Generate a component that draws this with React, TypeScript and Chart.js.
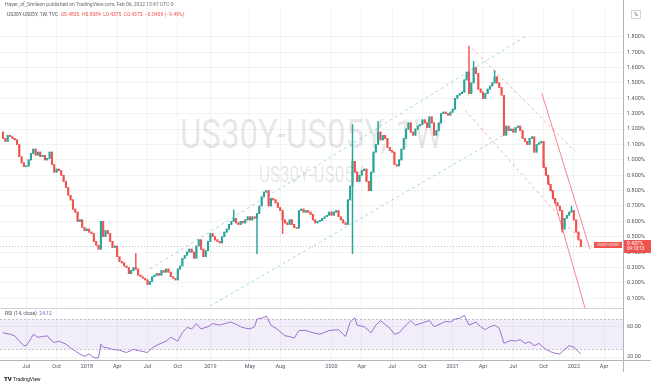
import React, { useEffect, useRef } from "react";
import { Chart, registerables } from "chart.js";

Chart.register(...registerables);

// Weekly closes of US30Y-US05Y (%), week 0 = 24 Apr 2017 ... week 248 = 31 Jan 2022
const closes: number[] = [
  1.14, 1.12, 1.16, 1.15, 1.14, 1.13, 1.10, 1.02, 0.98, 0.955,
  0.96, 1.00, 1.04, 1.07, 1.03, 1.05, 1.02, 1.03, 1.00, 1.01,
  1.05, 0.97, 0.92, 0.94, 0.93, 0.90, 0.86, 0.82, 0.77, 0.74,
  0.68, 0.66, 0.60, 0.61, 0.56, 0.54, 0.55, 0.53, 0.52, 0.47,
  0.445, 0.42, 0.60, 0.50, 0.54, 0.52, 0.47, 0.43, 0.44, 0.37,
  0.34, 0.33, 0.31, 0.30, 0.26, 0.28, 0.30, 0.29, 0.25, 0.24,
  0.23, 0.22, 0.19, 0.21, 0.24, 0.25, 0.26, 0.25, 0.28, 0.27,
  0.29, 0.27, 0.24, 0.23, 0.22, 0.29, 0.31, 0.36, 0.38, 0.40,
  0.42, 0.40, 0.36, 0.44, 0.48, 0.42, 0.37, 0.41, 0.47, 0.52,
  0.50, 0.48, 0.47, 0.46, 0.50, 0.53, 0.55, 0.58, 0.60, 0.62,
  0.59, 0.58, 0.60, 0.59, 0.61, 0.63, 0.61, 0.63, 0.62, 0.65,
  0.70, 0.76, 0.79, 0.80, 0.70, 0.75, 0.74, 0.72, 0.69, 0.67,
  0.61, 0.59, 0.58, 0.61, 0.58, 0.56, 0.555, 0.67, 0.68, 0.66,
  0.67, 0.66, 0.645, 0.61, 0.59, 0.60, 0.605, 0.62, 0.63, 0.64,
  0.66, 0.64, 0.66, 0.67, 0.63, 0.61, 0.59, 0.58, 0.74, 0.83,
  0.99, 0.92, 0.86, 0.90, 0.93, 0.94, 0.86, 0.80, 0.92, 1.05,
  1.10, 1.18, 1.13, 1.16, 1.14, 1.08, 1.06, 1.05, 0.97, 0.96,
  1.00, 1.07, 1.14, 1.20, 1.24, 1.18, 1.16, 1.20, 1.22, 1.23,
  1.26, 1.24, 1.21, 1.28, 1.24, 1.16, 1.19, 1.24, 1.30, 1.31,
  1.30, 1.29, 1.31, 1.33, 1.40, 1.42, 1.43, 1.44, 1.52, 1.57,
  1.43, 1.50, 1.60, 1.56, 1.46, 1.44, 1.40, 1.43, 1.46, 1.48,
  1.50, 1.54, 1.50, 1.47, 1.42, 1.16, 1.22, 1.19, 1.20, 1.18,
  1.21, 1.22, 1.19, 1.14, 1.12, 1.10, 1.14, 1.15, 1.05, 1.10,
  1.11, 1.12, 0.95, 0.90, 0.84, 0.80, 0.75, 0.72, 0.70, 0.67,
  0.55, 0.62, 0.64, 0.66, 0.67, 0.61, 0.53, 0.48, 0.437,
];
const firstOpen = 1.18;

// Notable wicks: [week, price]
const wickHighs: [number, number][] = [
  [57, 0.39], [99, 0.675], [150, 1.23], [161, 1.25], [200, 1.74], [202, 1.64], [211, 1.58], [244, 0.70],
];
const wickLows: [number, number][] = [
  [109, 0.39], [120, 0.52], [150, 0.39], [240, 0.53],
];

// RSI (14, close): week index / value
const rsiWeeks: number[] = [
  0, 3, 5, 7, 9, 10, 12, 13, 15, 17, 19, 20, 22, 24, 27, 29, 31, 33, 35, 37,
  39, 41, 42, 43, 45, 47, 50, 53, 56, 59, 62, 64, 67, 70, 72, 75, 77, 79, 81, 83,
  85, 88, 90, 93, 95, 98, 102, 104, 106, 108, 109, 112, 113, 115, 118, 121, 123, 125, 127, 130,
  133, 136, 140, 144, 147, 149, 151, 152, 155, 158, 160, 162, 164, 166, 168, 170, 173, 175, 177, 179,
  181, 183, 185, 188, 190, 192, 194, 196, 198, 200, 203, 205, 207, 209, 211, 213, 215, 218, 220, 222,
  224, 226, 228, 230, 233, 235, 237, 239, 241, 243, 245, 247, 248,
];
const rsiValues: number[] = [
  52, 50, 48, 41, 35, 35, 44, 50, 46, 47, 48, 44, 39, 41, 37, 32, 28, 24, 21, 24,
  19, 19, 37, 33, 32, 30, 29, 26, 30, 28, 26, 32, 37, 41, 46, 41, 52, 59, 57, 64,
  57, 60, 64, 62, 64, 66, 60, 58, 57, 60, 70, 72, 74, 62, 56, 48, 47, 45, 55, 55,
  52, 50, 55, 56, 47, 66, 72, 62, 60, 52, 62, 68, 63, 58, 50, 52, 62, 68, 62, 64,
  66, 68, 60, 64, 67, 66, 70, 71, 75, 62, 66, 60, 56, 60, 62, 58, 38, 42, 41, 43,
  38, 40, 35, 38, 30, 27, 25, 24, 30, 35, 33, 27, 24.12,
];

// Time axis
const tickWeeks: number[] = [10, 23, 36, 49, 62, 75, 89, 106, 119, 141, 154, 167, 180, 193, 206, 219, 232, 245, 258];
const tickLabels: string[] = ["Jul", "Oct", "2018", "Apr", "Jul", "Oct", "2019", "May", "Aug", "2020", "Apr", "Jul", "Oct", "2021", "Apr", "Jul", "Oct", "2022", "Apr"];
const priceTicks: number[] = [0.1, 0.2, 0.3, 0.4, 0.5, 0.6, 0.7, 0.8, 0.9, 1.0, 1.1, 1.2, 1.3, 1.4, 1.5, 1.6, 1.7, 1.8];
const rsiTicks: number[] = [20, 40, 60, 80];

// Drawings: [week1, price1, week2, price2]
const greenChannel: number[][] = [
  [63.1, 0.291, 224.0, 1.80],
  [88.8, 0.049, 216.7, 1.176],
];
const redDashed: number[][] = [
  [201.3, 1.724, 245.5, 1.055],
  [198.3, 1.323, 249.8, 0.444],
];
const redSolid: number[][] = [
  [231.3, 1.431, 251.9, 0.419],
  [231.8, 0.992, 249.8, 0.036],
];
const lastPrice = 0.437;

const UP = "#26a69a";
const DOWN = "#ef5350";

export default function App() {
  const ref = useRef<HTMLCanvasElement | null>(null);

  useEffect(() => {
    const canvas = ref.current;
    if (!canvas) return;

    const opens = closes.map((_, i) => (i === 0 ? firstOpen : closes[i - 1]));
    const highs = closes.map((c, i) => Math.max(c, opens[i]));
    const lows = closes.map((c, i) => Math.min(c, opens[i]));
    wickHighs.forEach(([i, v]) => (highs[i] = Math.max(highs[i], v)));
    wickLows.forEach(([i, v]) => (lows[i] = Math.min(lows[i], v)));
    const colors = closes.map((c, i) => (c >= opens[i] ? UP : DOWN));

    const bodies = closes.map((c, i) => ({ x: i, y: [opens[i], c] }));
    const wicks = closes.map((_, i) => ({ x: i, y: [lows[i], highs[i]] }));
    const rsi = rsiWeeks.map((w, i) => ({ x: w, y: rsiValues[i] }));

    const overlay = {
      id: "overlay",
      beforeDatasetsDraw(chart: any) {
        const { ctx, scales, chartArea } = chart;
        const yR = scales.yR;
        const y70 = yR.getPixelForValue(70);
        const y30 = yR.getPixelForValue(30);
        ctx.save();
        ctx.fillStyle = "rgba(126,87,194,0.1)";
        ctx.fillRect(chartArea.left, y70, chartArea.right - chartArea.left, y30 - y70);
        ctx.strokeStyle = "rgba(120,123,134,0.4)";
        ctx.lineWidth = 1;
        ctx.setLineDash([2, 2]);
        [70, 30].forEach((v) => {
          const y = Math.round(yR.getPixelForValue(v)) + 0.5;
          ctx.beginPath();
          ctx.moveTo(chartArea.left, y);
          ctx.lineTo(chartArea.right, y);
          ctx.stroke();
        });
        ctx.restore();
      },
      afterDatasetsDraw(chart: any) {
        const { ctx, scales, chartArea } = chart;
        const x = scales.x;
        const yP = scales.yP;
        ctx.save();
        ctx.beginPath();
        ctx.rect(chartArea.left, yP.top, chartArea.right - chartArea.left, yP.bottom - yP.top);
        ctx.clip();
        const seg = (l: number[]) => {
          ctx.beginPath();
          ctx.moveTo(x.getPixelForValue(l[0]), yP.getPixelForValue(l[1]));
          ctx.lineTo(x.getPixelForValue(l[2]), yP.getPixelForValue(l[3]));
          ctx.stroke();
        };
        ctx.lineWidth = 1;
        ctx.setLineDash([3, 3]);
        ctx.strokeStyle = "rgba(38,166,154,0.42)";
        greenChannel.forEach(seg);
        ctx.strokeStyle = "rgba(242,54,69,0.42)";
        redDashed.forEach(seg);
        ctx.setLineDash([]);
        ctx.strokeStyle = "rgba(242,54,69,0.6)";
        redSolid.forEach(seg);
        // last price line
        ctx.setLineDash([1, 2]);
        ctx.strokeStyle = "rgba(120,123,134,0.45)";
        const yl = Math.round(yP.getPixelForValue(lastPrice)) + 0.5;
        ctx.beginPath();
        ctx.moveTo(chartArea.left, yl);
        ctx.lineTo(chartArea.right, yl);
        ctx.stroke();
        ctx.restore();

        // frame lines
        ctx.save();
        ctx.strokeStyle = "#d1d4dc";
        ctx.lineWidth = 1;
        const sep = Math.round(yP.bottom) + 0.5;
        ctx.beginPath();
        ctx.moveTo(0, sep);
        ctx.lineTo(chartArea.right, sep);
        ctx.stroke();
        ctx.strokeStyle = "#b2b5be";
        const xb = Math.round(chartArea.bottom) + 0.5;
        ctx.beginPath();
        ctx.moveTo(0, xb);
        ctx.lineTo(651, xb);
        ctx.stroke();
        const xr = Math.round(chartArea.right) + 0.5;
        ctx.beginPath();
        ctx.moveTo(xr, 0);
        ctx.lineTo(xr, 372);
        ctx.stroke();
        ctx.restore();
      },
    };

    const tickFont = { family: "Roboto", size: 5.5 };
    const gridColor = "rgba(42,46,57,0.06)";

    const chart = new Chart(canvas, {
      type: "bar",
      data: {
        datasets: [
          {
            type: "bar",
            data: wicks as any,
            xAxisID: "x",
            yAxisID: "yP",
            backgroundColor: colors,
            barThickness: 0.8,
            grouped: false,
            order: 3,
          } as any,
          {
            type: "bar",
            data: bodies as any,
            xAxisID: "x",
            yAxisID: "yP",
            backgroundColor: colors,
            barThickness: 1.4,
            minBarLength: 1,
            grouped: false,
            order: 2,
          } as any,
          {
            type: "line",
            data: rsi as any,
            xAxisID: "x",
            yAxisID: "yR",
            borderColor: "#9c6fd0",
            borderWidth: 1,
            pointRadius: 0,
            tension: 0,
            order: 1,
          } as any,
        ],
      },
      options: {
        responsive: false,
        animation: false,
        devicePixelRatio: 1,
        events: [],
        layout: { padding: 0 },
        plugins: { legend: { display: false }, tooltip: { enabled: false } },
        scales: {
          x: {
            type: "linear",
            position: "bottom",
            min: -1.29,
            max: 266.1,
            offset: false,
            afterBuildTicks: (s: any) => {
              s.ticks = tickWeeks.map((v) => ({ value: v }));
            },
            afterFit: (s: any) => {
              s.height = 24;
            },
            ticks: {
              autoSkip: false,
              maxRotation: 0,
              padding: 3,
              font: tickFont,
              color: "#50535e",
              callback: (_v: any, i: number) => tickLabels[i],
            },
            grid: { color: gridColor, drawTicks: false, offset: false },
            border: { display: false },
          },
          yP: {
            type: "linear",
            position: "right",
            stack: "panes",
            stackWeight: 307,
            min: 0.0363,
            max: 1.9917,
            afterBuildTicks: (s: any) => {
              s.ticks = priceTicks.map((v) => ({ value: v }));
            },
            afterFit: (s: any) => {
              s.width = 28;
            },
            ticks: {
              padding: 4,
              font: tickFont,
              color: "#50535e",
              callback: (v: any) => Number(v).toFixed(3) + "%",
            },
            grid: { color: gridColor, drawTicks: false },
            border: { display: false },
          },
          yR: {
            type: "linear",
            position: "right",
            stack: "panes",
            stackWeight: 53,
            min: 16.1,
            max: 84.5,
            afterBuildTicks: (s: any) => {
              s.ticks = rsiTicks.map((v) => ({ value: v }));
            },
            afterFit: (s: any) => {
              s.width = 28;
            },
            ticks: {
              padding: 4,
              font: tickFont,
              color: "#50535e",
              callback: (v: any) => Number(v).toFixed(2),
            },
            grid: { color: gridColor, drawTicks: false },
            border: { display: false },
          },
        },
      } as any,
      plugins: [overlay],
    });

    return () => chart.destroy();
  }, []);

  const small: React.CSSProperties = { position: "absolute", whiteSpace: "nowrap", lineHeight: 1 };

  return (
    <div
      style={{
        position: "fixed",
        left: 0,
        top: 0,
        width: 651,
        height: 384,
        background: "#ffffff",
        overflow: "hidden",
        fontFamily: "Roboto, 'Noto Sans', sans-serif",
      }}
    >
      {/* watermark */}
      <div
        style={{
          ...small,
          left: 0,
          width: 623,
          top: 113,
          textAlign: "center",
          fontSize: 33,
          color: "rgba(0,0,0,0.11)",
          transform: "scaleY(1.25)",
          transformOrigin: "top",
        }}
      >
        US30Y-US05Y, 1W
      </div>
      <div
        style={{
          ...small,
          left: 0,
          width: 623,
          top: 164,
          textAlign: "center",
          fontSize: 17,
          color: "rgba(0,0,0,0.11)",
          transform: "scaleY(1.25)",
          transformOrigin: "top",
        }}
      >
        US30Y-US05Y
      </div>

      <canvas ref={ref} width={651} height={384} style={{ position: "absolute", left: 0, top: 0, width: 651, height: 384 }} />

      {/* header */}
      <div style={{ ...small, left: 5, top: 2, fontSize: 5, color: "#6a6d78" }}>
        Hayer_of_Smileon published on TradingView.com, Feb 06, 2022 13:47 UTC-5
      </div>
      <div style={{ ...small, left: 7, top: 12, fontSize: 5, color: "#50535e" }}>
        US30Y-US05Y, 1W, TVC&nbsp;&nbsp;
        <span style={{ color: DOWN }}>
          O0.4835&nbsp;&nbsp;H0.5084&nbsp;&nbsp;L0.4375&nbsp;&nbsp;C0.4375&nbsp;&nbsp;−0.0459 (−9.49%)
        </span>
      </div>

      {/* percent box */}
      <div
        style={{
          ...small,
          left: 631,
          top: 10,
          fontSize: 5,
          color: "#50535e",
          border: "1px solid #d1d4dc",
          padding: "1px 2px",
        }}
      >
        %
      </div>

      {/* last price labels */}
      <div
        style={{
          ...small,
          left: 594,
          top: 242,
          height: 6,
          width: 28,
          background: DOWN,
          color: "#fff",
          fontSize: 3.6,
          lineHeight: "6px",
          textAlign: "center",
        }}
      >
        US30Y-US05Y
      </div>
      <div
        style={{
          ...small,
          left: 624,
          top: 240,
          width: 27,
          height: 13,
          background: DOWN,
          color: "#fff",
          fontSize: 5,
          paddingLeft: 3,
          boxSizing: "border-box",
        }}
      >
        <div style={{ marginTop: 1 }}>0.437%</div>
        <div style={{ marginTop: 1, fontSize: 4.5 }}>04:10:13</div>
      </div>

      {/* RSI legend */}
      <div style={{ ...small, left: 5, top: 311, fontSize: 5, color: "#50535e" }}>
        RSI (14, close)&nbsp;&nbsp;<span style={{ color: "#7e57c2" }}>24.12</span>
      </div>

      {/* logo */}
      <div style={{ ...small, left: 4, top: 376, fontSize: 5, color: "#131722" }}>
        <span style={{ fontWeight: 900, fontSize: 6 }}>TV</span>&nbsp;TradingView
      </div>
    </div>
  );
}
